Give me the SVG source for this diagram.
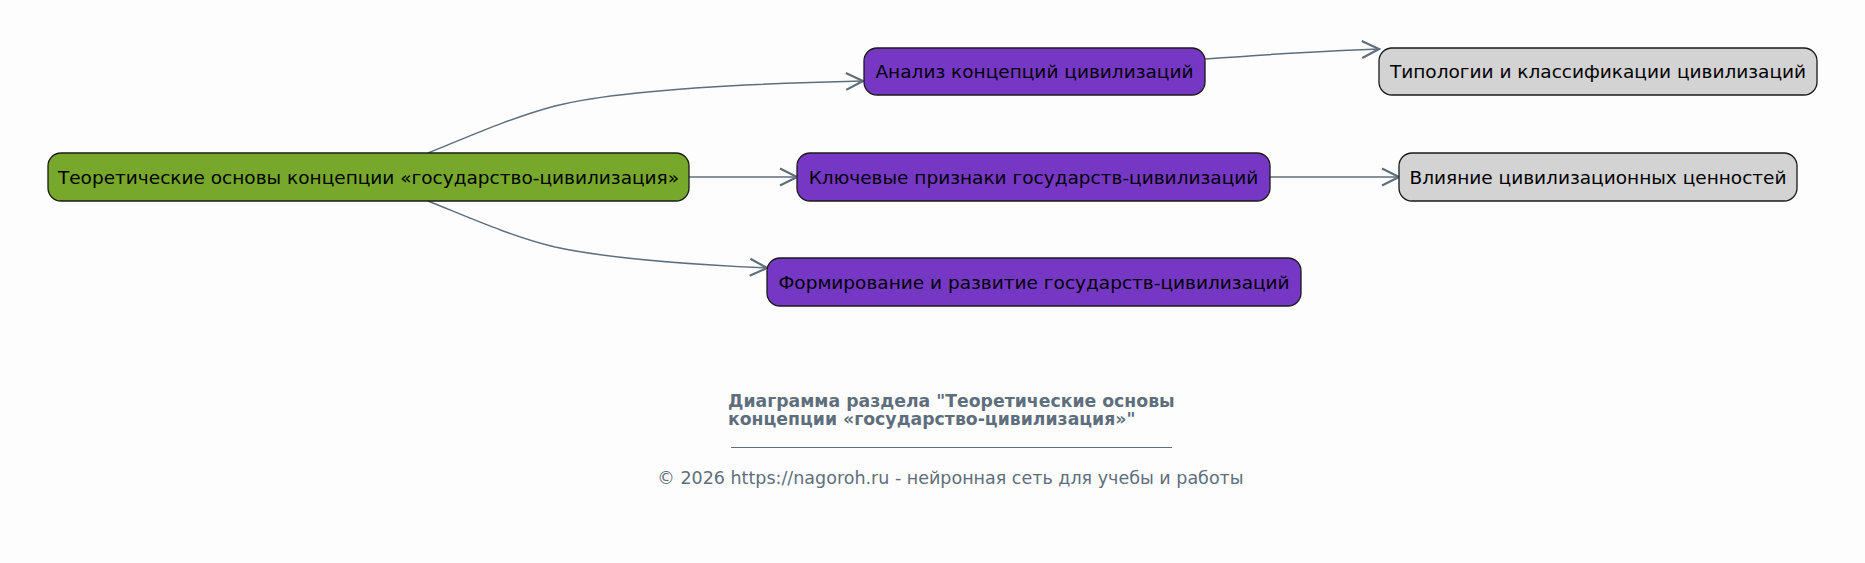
<svg xmlns="http://www.w3.org/2000/svg" width="1865" height="563" viewBox="0 0 1865 563">
<style>
.node rect{stroke:#1a1a1a;stroke-width:1.3}
.node text{font-family:"DejaVu Sans",sans-serif;font-size:18.5px;fill:#000;text-anchor:middle}
.root rect{fill:#77a82b}
.mid rect{fill:#7638c4}
.leaf rect{fill:#d3d3d3}
.edge{fill:none;stroke:#5f6e7c;stroke-width:1.5}
.title{font-family:"DejaVu Sans",sans-serif;font-size:17.3px;font-weight:bold;fill:#5f6e7c}
.copy{font-family:"DejaVu Sans",sans-serif;font-size:17.5px;fill:#5f6e7c}
</style>
<defs>
<marker id="arr" viewBox="0 0 20 20" refX="18" refY="10" markerWidth="20" markerHeight="20" markerUnits="userSpaceOnUse" orient="auto">
<path d="M1,1.5 L18,10 L1,18.5" fill="none" stroke="#5f6e7c" stroke-width="2.2"/>
</marker>
</defs>
<rect width="1865" height="563" fill="#fdfdfd"/>
<g id="connectors">
<path class="edge" marker-end="url(#arr)" d="M428,153 C468,137 510,118 555,106 C610,92 730,84 863,81"/>
<path class="edge" marker-end="url(#arr)" d="M689,177 L797,177"/>
<path class="edge" marker-end="url(#arr)" d="M428,201 C468,217 510,236 555,247 C610,259 700,265 767,268"/>
<path class="edge" marker-end="url(#arr)" d="M1205,59 C1260,55 1320,51 1379,49"/>
<path class="edge" marker-end="url(#arr)" d="M1270,177 L1399,177"/>
</g>
<g id="n-root" class="node root">
<rect x="48" y="153" width="641" height="48" rx="13"/>
<text x="368.5" y="183.5">Теоретические основы концепции «государство-цивилизация»</text>
</g>
<g id="n-analysis" class="node mid">
<rect x="864" y="48" width="341" height="47" rx="13"/>
<text x="1034.5" y="78">Анализ концепций цивилизаций</text>
</g>
<g id="n-features" class="node mid">
<rect x="797" y="153" width="473" height="48" rx="13"/>
<text x="1033.5" y="183.5">Ключевые признаки государств-цивилизаций</text>
</g>
<g id="n-formation" class="node mid">
<rect x="767" y="258" width="534" height="48" rx="13"/>
<text x="1034" y="288.5">Формирование и развитие государств-цивилизаций</text>
</g>
<g id="n-typology" class="node leaf">
<rect x="1379" y="48" width="438" height="47" rx="13"/>
<text x="1598" y="78">Типологии и классификации цивилизаций</text>
</g>
<g id="n-values" class="node leaf">
<rect x="1399" y="153" width="398" height="48" rx="13"/>
<text x="1598" y="183.5">Влияние цивилизационных ценностей</text>
</g>
<g id="caption">
<text class="title" x="728" y="407">Диаграмма раздела "Теоретические основы</text>
<text class="title" x="728" y="425">концепции «государство-цивилизация»"</text>
<line x1="731" y1="447.5" x2="1172" y2="447.5" stroke="#5f6e7c" stroke-width="1.2"/>
<text class="copy" x="950.5" y="484" text-anchor="middle">© 2026 https://nagoroh.ru - нейронная сеть для учебы и работы</text>
</g>
</svg>
